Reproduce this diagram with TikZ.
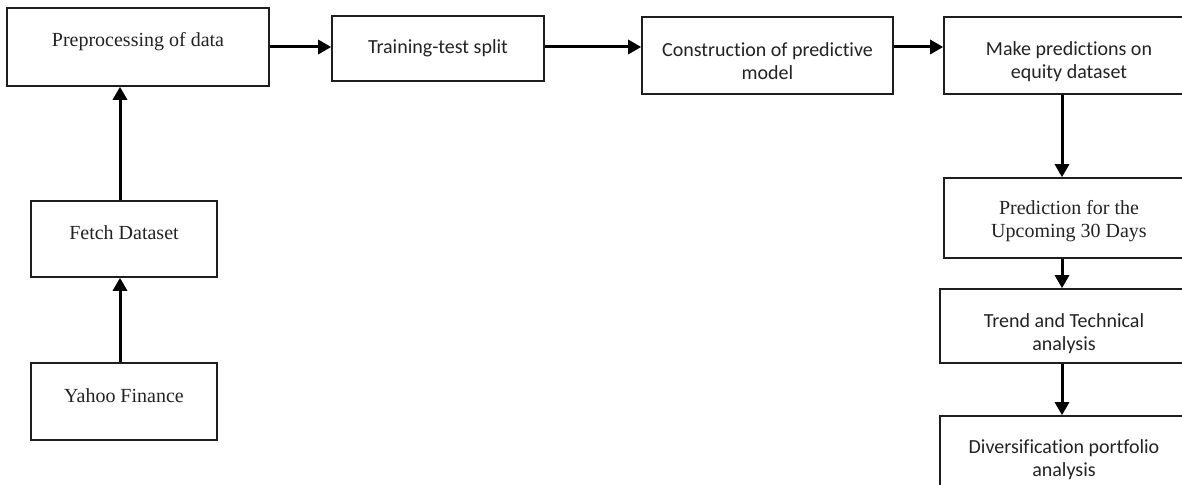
\documentclass[tikz,border=0pt]{standalone}
\usepackage{fontspec}
\setmainfont{Liberation Serif}
\newfontfamily\calibrifont[Ligatures={NoCommon,NoContextual}]{Carlito}
\usepackage{tikz}
\usetikzlibrary{arrows.meta,positioning}
\definecolor{fcline}{RGB}{30,30,30}
\definecolor{fctext}{RGB}{35,35,35}

\begin{document}
\begin{tikzpicture}[x=0.5pt,y=-0.5pt,
  blk/.style={rectangle, draw=fcline, line width=0.8pt, fill=white, inner sep=0pt},
  txt/.style={text=fctext, align=center, font=\fontsize{10}{11.5}\selectfont},
  stxt/.style={txt, font=\calibrifont\fontsize{10}{11.5}\selectfont},
  flow/.style={-{Triangle[length=6.5pt,width=7pt]}, line width=1.5pt, draw=black}]
  \useasboundingbox (0,0) rectangle (1182,485);
  \clip (0,0) rectangle (1182,485);

  % left column and top row
  \node[blk, minimum width=131pt, minimum height=39pt,
        label={[txt, yshift=2.5pt]center:Preprocessing of data}] (prep) at (138,47) {};
  \node[blk, minimum width=106pt, minimum height=32.5pt,
        label={[stxt]center:Training-test split}] (split) at (438,48.5) {};
  \node[blk, minimum width=125.5pt, minimum height=38.5pt,
        label={[stxt, yshift=-3pt]center:{Construction of predictive\\model}}] (model) at (767.5,55.5) {};
  \node[blk, minimum width=125pt, minimum height=38.5pt,
        label={[stxt, yshift=-3pt]center:{Make predictions on\\equity dataset}}] (equity) at (1069,55.5) {};
  \node[blk, minimum width=93pt, minimum height=38pt,
        label={[txt, yshift=3pt]center:Fetch Dataset}] (fetch) at (124,239) {};
  \node[blk, minimum width=93pt, minimum height=38.5pt,
        label={[txt, yshift=2.75pt]center:Yahoo Finance}] (yahoo) at (124,401.5) {};

  % right column
  \node[blk, minimum width=125pt, minimum height=40pt,
        label={[txt, yshift=-1.75pt]center:{Prediction for the\\Upcoming 30 Days}}] (days) at (1069,218) {};
  \node[blk, minimum width=124pt, minimum height=37pt,
        label={[stxt, yshift=-3.75pt]center:{Trend and Technical\\analysis}}] (trend) at (1064,326) {};
  \node[blk, minimum width=124pt, minimum height=38pt,
        label={[stxt, yshift=-3pt]center:{Diversification portfolio\\analysis}}] (divers) at (1064,454) {};

  % arrows
  \draw[flow] ([xshift=-2pt]yahoo.north) -- ([xshift=-2pt]fetch.south);
  \draw[flow] ([xshift=-2pt]fetch.north) -- ([xshift=-2pt]fetch.north |- prep.south);
  \draw[flow] (prep.east) -- (prep.east -| split.west);
  \draw[flow] (split.east |- prep.east) -- (model.west |- prep.east);
  \draw[flow] (model.east |- prep.east) -- (equity.west |- prep.east);
  \draw[flow] ([xshift=-3.5pt]equity.south) -- ([xshift=-3.5pt]days.north);
  \draw[flow] ([xshift=-3.5pt]days.south) -- ([xshift=-3.5pt]days.south |- trend.north);
  \draw[flow] ([xshift=-1pt]trend.south) -- ([xshift=-1pt]divers.north);
\end{tikzpicture}
\end{document}
